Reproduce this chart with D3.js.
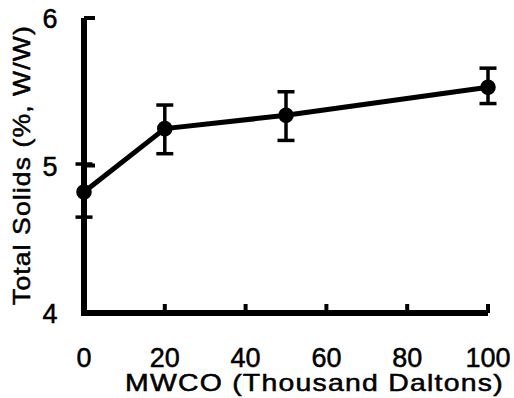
<!DOCTYPE html>
<html><head><meta charset="utf-8">
<script src="https://cdn.jsdelivr.net/npm/d3@7"></script>
<style>body{margin:0;background:#fff}svg{display:block}text{font-family:"Liberation Sans",Arial,sans-serif;fill:#000;stroke:#000;stroke-width:0.5px}</style>
</head><body><svg id="c" width="514" height="398"></svg>
<script>
const mwco = [0, 20, 50, 100];
const solids = [4.82, 5.25, 5.34, 5.53];
const errHigh = [5.01, 5.41, 5.50, 5.66];
const errLow = [4.65, 5.08, 5.17, 5.42];
const xTicks = [0, 20, 40, 60, 80, 100];
const yTicks = [4, 5, 6];
const xTitle = "MWCO (Thousand Daltons)";
const yTitle = "Total Solids (%, W/W)";

const svg = d3.select("#c");
const x = d3.scaleLinear().domain([0, 100]).range([84, 488]);
const y = d3.scaleLinear().domain([4, 6]).range([313, 18]);

// axes lines
svg.append("path").attr("d", `M${x(0)},${y(6)}V${y(4)}H${x(100)}`)
  .attr("fill","none").attr("stroke","#000").attr("stroke-width",6).attr("stroke-linejoin","miter");
svg.selectAll(".yt").data(yTicks.filter(d=>d>4)).join("line")
  .attr("x1", x(0)).attr("x2", x(0)+11).attr("y1", d=>y(d)).attr("y2", d=>y(d))
  .attr("stroke","#000").attr("stroke-width",4);
svg.selectAll(".xt").data(xTicks.filter(d=>d>0)).join("line")
  .attr("x1", d=>x(d)).attr("x2", d=>x(d)).attr("y1", y(4)).attr("y2", y(4)-9)
  .attr("stroke","#000").attr("stroke-width",4);

// tick labels
svg.selectAll(".yl").data(yTicks).join("text")
  .attr("x", 50).attr("y", d=>y(d)+10).attr("text-anchor","middle")
  .attr("font-size", 27).text(d=>d);
svg.selectAll(".xl").data(xTicks).join("text")
  .attr("x", d=>x(d)).attr("y", 367).attr("text-anchor","middle")
  .attr("font-size", 27).text(d=>d);

// titles (stretched horizontally along their length)
function stretched(sel, txt, fs, ls, target) {
  const t = sel.append("text").attr("font-size", fs).attr("letter-spacing", ls).text(txt);
  const w = t.node().getComputedTextLength();
  return { t, s: target / w };
}
const xt = stretched(svg, xTitle, 23, 1, 379);
xt.t.attr("transform", `translate(125,391) scale(${xt.s},1)`);
const yt = stretched(svg, yTitle, 24, 1, 280);
yt.t.attr("transform", `translate(30,305) rotate(-90) scale(${yt.s},1)`);

// line
const line = d3.line().x((d,i)=>x(mwco[i])).y(d=>y(d));
svg.append("path").attr("d", line(solids)).attr("fill","none")
  .attr("stroke","#000").attr("stroke-width",5).attr("stroke-linejoin","round");

// error bars
const g = svg.selectAll(".eb").data(mwco).join("g");
g.append("line").attr("x1",d=>x(d)).attr("x2",d=>x(d))
  .attr("y1",(d,i)=>y(errHigh[i])).attr("y2",(d,i)=>y(errLow[i]))
  .attr("stroke","#000").attr("stroke-width",3.5);
g.append("line").attr("x1",d=>x(d)-8.5).attr("x2",d=>x(d)+8.5)
  .attr("y1",(d,i)=>y(errHigh[i])).attr("y2",(d,i)=>y(errHigh[i]))
  .attr("stroke","#000").attr("stroke-width",3.5);
g.append("line").attr("x1",d=>x(d)-8.5).attr("x2",d=>x(d)+8.5)
  .attr("y1",(d,i)=>y(errLow[i])).attr("y2",(d,i)=>y(errLow[i]))
  .attr("stroke","#000").attr("stroke-width",3.5);
g.append("path").attr("transform",(d,i)=>`translate(${x(d)},${y(solids[i])})`)
  .attr("d", d3.symbol().type(d3.symbolCircle).size(190)).attr("fill","#000");
</script></body></html>
